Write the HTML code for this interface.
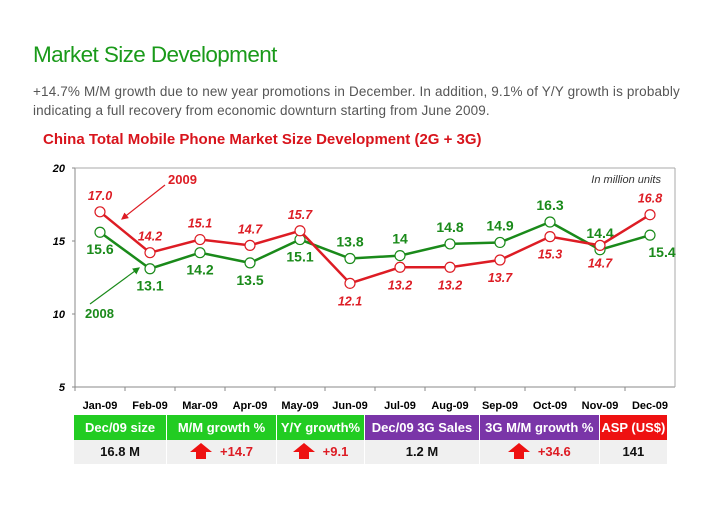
<!DOCTYPE html>
<html><head><meta charset="utf-8"><style>
body{margin:0;width:728px;height:515px;background:#fff;font-family:"Liberation Sans",sans-serif;position:relative;overflow:hidden}
.t{position:absolute}
</style></head><body>
<div class="t" style="left:33px;top:42px;font-size:22.5px;color:#1a9a1a;letter-spacing:-0.6px">Market Size Development</div>
<div class="t" style="left:33px;top:82px;font-size:13.5px;color:#555;line-height:19px;width:690px;letter-spacing:0.15px">+14.7% M/M growth due to new year promotions in December. In addition, 9.1% of Y/Y growth is probably indicating a full recovery from economic downturn starting from June 2009.</div>
<div class="t" style="left:43px;top:131px;font-size:15px;font-weight:bold;color:#d8141c">China Total Mobile Phone Market Size Development (2G + 3G)</div>
<svg id="c" width="728" height="515" style="position:absolute;left:0;top:0"></svg>
<div id="tbl" style="position:absolute;left:74px;top:415px;width:594px;font-weight:bold;font-size:13px"></div>
<script>
const months=["Jan-09","Feb-09","Mar-09","Apr-09","May-09","Jun-09","Jul-09","Aug-09","Sep-09","Oct-09","Nov-09","Dec-09"];
const s2009=[17.0,14.2,15.1,14.7,15.7,12.1,13.2,13.2,13.7,15.3,14.7,16.8];
const s2008=[15.6,13.1,14.2,13.5,15.1,13.8,14,14.8,14.9,16.3,14.4,15.4];
const lab2009=["17.0","14.2","15.1","14.7","15.7","12.1","13.2","13.2","13.7","15.3","14.7","16.8"];
const lab2008=["15.6","13.1","14.2","13.5","15.1","13.8","14","14.8","14.9","16.3","14.4","15.4"];
const yTicks=[5,10,15,20];
const pos2009=[-1,-1,-1,-1,-1,1,1,1,1,1,1,-1];
const pos2008=[1,1,1,1,1,-1,-1,-1,-1,-1,-1,1];
const NS="http://www.w3.org/2000/svg",svg=document.getElementById('c');
const X0=75,BW=50,Y20=168,Y5=387;
const xs=i=>X0+BW*(i+0.5);
const ys=v=>Y5-(v-5)*(Y5-Y20)/15;
function el(t,a){const e=document.createElementNS(NS,t);for(const k in a)e.setAttribute(k,a[k]);svg.appendChild(e);return e;}
let e=el('line',{x1:X0,y1:Y20,x2:X0,y2:Y5,stroke:'#888'});

e=el('line',{x1:X0,y1:Y5,x2:X0+BW*12,y2:Y5,stroke:'#888'});

e=el('line',{x1:X0,y1:Y20,x2:X0+BW*12,y2:Y20,stroke:'#aaa'});

e=el('line',{x1:X0+BW*12,y1:Y20,x2:X0+BW*12,y2:Y5,stroke:'#aaa'});

yTicks.forEach(v=>{const t=el('text',{x:X0-10,y:ys(v)+4,'text-anchor':'end','font-size':11,'font-weight':'bold','font-style':'italic'});t.textContent=v;

const l=el('line',{x1:X0-3,y1:ys(v),x2:X0,y2:ys(v),stroke:'#888'});});
months.forEach((m,i)=>{const l=el('line',{x1:X0+BW*i,y1:Y5,x2:X0+BW*i,y2:Y5+4,stroke:'#888'});
const t=el('text',{x:xs(i),y:Y5+22,'text-anchor':'middle','font-size':11,'font-weight':'bold'});t.textContent=m;});
function series(d,labs,pos,col,name,italic){
const p=el('polyline',{points:d.map((v,i)=>xs(i)+','+ys(v)).join(' '),fill:'none',stroke:col,'stroke-width':2.5});

d.forEach((v,i)=>{const c=el('circle',{cx:xs(i),cy:ys(v),r:5,fill:'#fff',stroke:col,'stroke-width':1.2});

const t=el('text',{x:xs(i)+(i==11&&!italic?12:0),y:ys(v)+(pos[i]<0?-12:22),'text-anchor':'middle','font-size':italic?12.5:14,'font-weight':'bold','font-style':italic?'italic':'normal',fill:col});
t.textContent=labs[i];});}
series(s2008,lab2008,pos2008,'#1a8a1a','series-2008',false);
series(s2009,lab2009,pos2009,'#dd1c24','series-2009',true);
e=el('defs',{});e.innerHTML='<marker id="ar" markerWidth="6" markerHeight="6" refX="5" refY="3" orient="auto"><path d="M0,0L6,3L0,6z" fill="#dd1c24"/></marker><marker id="ag" markerWidth="6" markerHeight="6" refX="5" refY="3" orient="auto"><path d="M0,0L6,3L0,6z" fill="#1a8a1a"/></marker>';
e=el('line',{x1:165,y1:185,x2:122,y2:219,stroke:'#dd1c24','stroke-width':1.2,'marker-end':'url(#ar)'});
e=el('text',{x:168,y:184,'font-size':13,'font-weight':'bold',fill:'#dd1c24'});e.textContent='2009';
e=el('line',{x1:90,y1:304,x2:139,y2:268,stroke:'#1a8a1a','stroke-width':1.2,'marker-end':'url(#ag)'});
e=el('text',{x:85,y:318,'font-size':13,'font-weight':'bold',fill:'#1a8a1a'});e.textContent='2008';
e=el('text',{x:661,y:183,'text-anchor':'end','font-size':11,'font-style':'italic',fill:'#333'});e.textContent='In million units';
const heads=[["Dec/09 size","#22cc22",93],["M/M growth %","#22cc22",110],["Y/Y growth%","#22cc22",88],["Dec/09 3G Sales","#7a35a8",115],["3G M/M growth %","#7a35a8",120],["ASP (US$)","#ee1111",68]];
const vals=[["16.8 M",0],["+14.7",1],["+9.1",1],["1.2 M",0],["+34.6",1],["141",0]];
const tb=document.getElementById('tbl');
let h='<div style="display:flex">';heads.forEach(c=>h+=`<div style="width:${c[2]}px;height:25px;line-height:25px;background:${c[1]};color:#fff;text-align:center;border-right:1px solid #fff">${c[0]}</div>`);
h+='</div><div style="display:flex">';
vals.forEach((v,i)=>h+=`<div style="width:${heads[i][2]}px;height:24px;line-height:24px;background:#f0f0f0;text-align:center;border-right:1px solid #fff;color:${v[1]?'#dd1c24':'#111'}">${v[1]?'<svg width="22" height="16" style="vertical-align:-3px;margin-right:8px"><path d="M11,0L22,9H16V16H6V9H0z" fill="#ee1111"/></svg>':''}${v[0]}</div>`);
tb.innerHTML=h+'</div>';
</script>
</body></html>
